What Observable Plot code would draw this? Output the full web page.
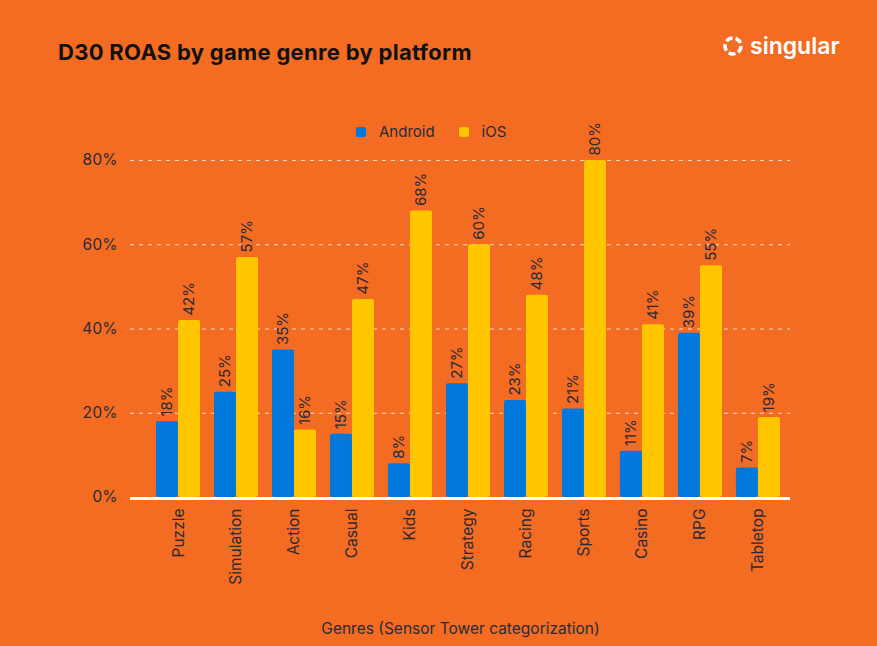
<!DOCTYPE html>
<html>
<head>
<meta charset="utf-8">
<script src="https://cdn.jsdelivr.net/npm/d3@7"></script>
<script src="https://cdn.jsdelivr.net/npm/@observablehq/plot@0.6"></script>
<style>
  html, body { margin: 0; padding: 0; }
  body { width: 877px; height: 646px; background: #F36C22; position: relative; overflow: hidden; font-family: "Inter", "Open Sans", sans-serif; }
  #title { position: absolute; left: 58px; top: 39px; font-size: 22px; font-weight: 700; color: #111; letter-spacing: 0.3px; }
  #logo { position: absolute; left: 722px; top: 32px; display: flex; align-items: center; color: #fff; font-size: 23px; font-weight: 600; }
  #logo svg { margin-right: 6px; }
  #legend { position: absolute; top: 122px; left: 356px; display: flex; align-items: center; font-size: 15px; color: #2a2a38; }
  #legend .sw { width: 10px; height: 10px; border-radius: 2px; display: inline-block; margin-right: 13px; }
  #legend .item { display: flex; align-items: center; margin-right: 24px; }
  #chart { position: absolute; left: 0; top: 100px; }
</style>
</head>
<body>
<div id="title">D30 ROAS by game genre by platform</div>
<div id="logo">
  <svg width="22" height="22" viewBox="0 0 22 22"><circle cx="11" cy="11" r="8" fill="none" stroke="#fff" stroke-width="3.5" stroke-dasharray="7 3"/></svg>
  singular
</div>
<div id="legend"></div>
<div id="chart"></div>
<script>
const genres = ["Puzzle", "Simulation", "Action", "Casual", "Kids", "Strategy", "Racing", "Sports", "Casino", "RPG", "Tabletop"];
const android = [18, 25, 35, 15, 8, 27, 23, 21, 11, 39, 7];
const ios = [42, 57, 16, 47, 68, 60, 48, 80, 41, 55, 19];
const yTicks = [0, 20, 40, 60, 80];
const seriesNames = ["Android", "iOS"];
const seriesColors = ["#0078DC", "#FFC600"];
const xAxisLabel = "Genres (Sensor Tower categorization)";

const androidData = genres.map((g, i) => ({genre: g, value: android[i]}));
const iosData = genres.map((g, i) => ({genre: g, value: ios[i]}));

// legend
const legend = document.getElementById("legend");
seriesNames.forEach((n, i) => {
  const it = document.createElement("div");
  it.className = "item";
  it.innerHTML = `<span class="sw" style="background:${seriesColors[i]}"></span>${n}`;
  legend.appendChild(it);
});

const textColor = "#2a2a38";
const chart = Plot.plot({
  width: 877,
  height: 546,
  marginLeft: 130,
  marginRight: 87,
  marginTop: 60,
  marginBottom: 149,
  style: {background: "transparent", fontFamily: "Inter, 'Open Sans', sans-serif", color: textColor},
  x: {domain: genres, range: [156, 780], paddingInner: 0.24, paddingOuter: 0, round: false},
  y: {domain: [0, 80], ticks: yTicks},
  marks: [
    Plot.ruleY(yTicks.filter(d => d > 0), {stroke: "#fff", strokeOpacity: 0.75, strokeDasharray: "4,5", strokeWidth: 1}),
    Plot.barY(androidData, {x: "genre", y: "value", fill: seriesColors[0], insetRight: 22, rx: 2}),
    Plot.barY(iosData, {x: "genre", y: "value", fill: seriesColors[1], insetLeft: 22, rx: 2}),
    Plot.ruleY([0], {stroke: "#fff", strokeWidth: 3, dy: 1}),
    Plot.text(androidData, {x: "genre", y: "value", text: d => d.value + "%", rotate: -90, textAnchor: "start", lineAnchor: "middle", dx: -11, dy: -5, fontSize: 15, fill: textColor}),
    Plot.text(iosData, {x: "genre", y: "value", text: d => d.value + "%", rotate: -90, textAnchor: "start", lineAnchor: "middle", dx: 11, dy: -5, fontSize: 15, fill: textColor}),
    Plot.axisY({ticks: yTicks, tickSize: 0, tickPadding: 13, tickFormat: d => d + "%", fontSize: 15.5, label: null, fill: textColor}),
    Plot.axisX({tickSize: 0, tickPadding: 11, tickRotate: -90, fontSize: 15.5, label: null, fill: textColor}),
    Plot.text([xAxisLabel], {frameAnchor: "bottom", dy: 136, fontSize: 15.5, fill: textColor})
  ]
});
document.getElementById("chart").appendChild(chart);
</script>
</body>
</html>
